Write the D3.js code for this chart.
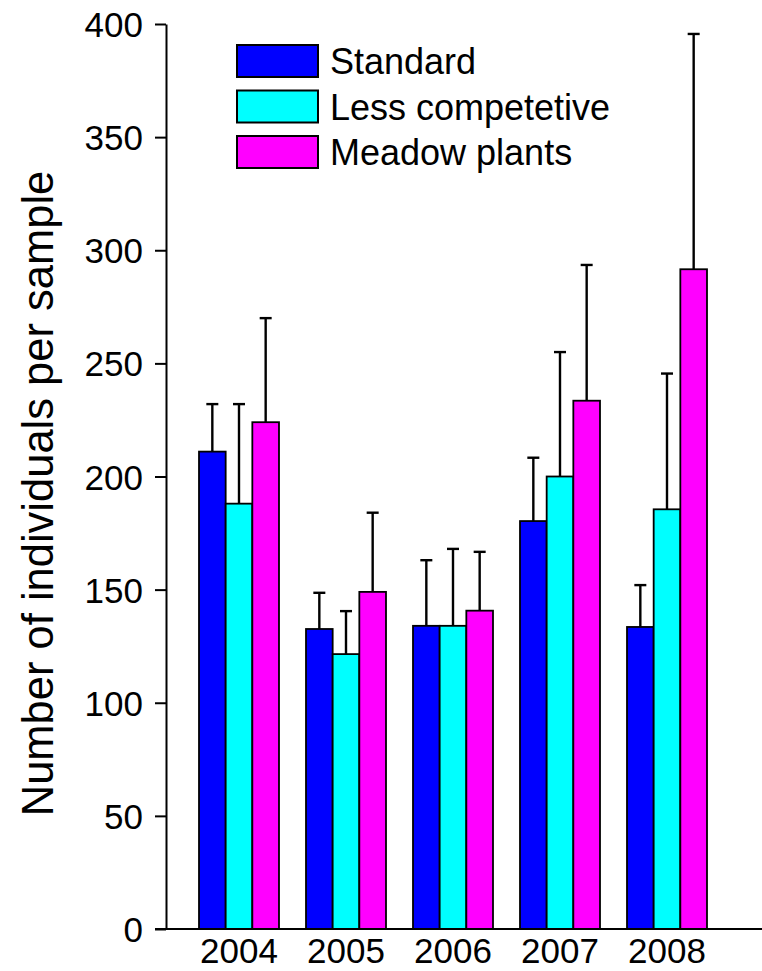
<!DOCTYPE html>
<html>
<head>
<meta charset="utf-8">
<script src="https://cdn.jsdelivr.net/npm/d3@7"></script>
<style>
body { margin:0; background:#fff; }
svg text { font-family: "Liberation Sans", Arial, sans-serif; fill:#000; }
</style>
</head>
<body>
<script>
// data
var years = ["2004","2005","2006","2007","2008"]
var seriesNames = ["Standard","Less competetive","Meadow plants"]
var standardMean = [211, 132.6, 134, 180.3, 133.5]
var standardErr  = [21, 16, 29, 28, 18.5]
var lessMean     = [188, 121.5, 134, 200, 185.5]
var lessErr      = [44, 19, 34, 55, 60]
var meadowMean   = [224, 149, 140.7, 233.5, 291.6]
var meadowErr    = [46, 35, 26, 60, 104]
var yTicks = [0,50,100,150,200,250,300,350,400]
var colors = ["#0000ff","#00ffff","#ff00ff"]

var width = 762, height = 971
var means = [standardMean, lessMean, meadowMean]
var errs = [standardErr, lessErr, meadowErr]

var rows = []
years.forEach(function(yr, i){
	seriesNames.forEach(function(s, j){
		rows.push({year: yr, series: s, j: j, value: means[j][i], err: errs[j][i]})
	})
})

var svg = d3.select("body").append("svg")
	.attr("width", width)
	.attr("height", height)

var x = d3.scaleBand().domain(years)
	.range([166, 740])
	.paddingInner(27/107)
	.paddingOuter(33/107)
var xs = d3.scaleBand().domain(seriesNames).range([0, x.bandwidth()])
var y = d3.scaleLinear().domain([0, 400]).range([929, 24])

// bars
svg.append("g").selectAll("rect")
	.data(rows).enter().append("rect")
	.attr("x", function(d){ return x(d.year) + xs(d.series) })
	.attr("y", function(d){ return y(d.value) })
	.attr("width", xs.bandwidth())
	.attr("height", function(d){ return y(0) - y(d.value) })
	.attr("fill", function(d){ return colors[d.j] })
	.attr("stroke", "#000")
	.attr("stroke-width", 1.8)

// error bars (upper only)
var eb = svg.append("g").attr("stroke", "#000").attr("stroke-width", 2.4)
eb.selectAll("line.v").data(rows).enter().append("line")
	.attr("class", "v")
	.attr("x1", function(d){ return x(d.year) + xs(d.series) + xs.bandwidth()/2 })
	.attr("x2", function(d){ return x(d.year) + xs(d.series) + xs.bandwidth()/2 })
	.attr("y1", function(d){ return y(d.value) })
	.attr("y2", function(d){ return y(d.value + d.err) })
eb.selectAll("line.c").data(rows).enter().append("line")
	.attr("class", "c")
	.attr("x1", function(d){ return x(d.year) + xs(d.series) + xs.bandwidth()/2 - 6 })
	.attr("x2", function(d){ return x(d.year) + xs(d.series) + xs.bandwidth()/2 + 6 })
	.attr("y1", function(d){ return y(d.value + d.err) })
	.attr("y2", function(d){ return y(d.value + d.err) })

// y axis
var yAxis = d3.axisLeft(y).tickValues(yTicks).tickSize(11).tickSizeOuter(0).tickPadding(12)
var gy = svg.append("g").attr("transform", "translate(166,0)").call(yAxis)
gy.selectAll("path, line").attr("stroke", "#000").attr("stroke-width", 2)
gy.selectAll("text").style("font-size", "35px").attr("dy", "0.36em")

// x axis
var xAxis = d3.axisBottom(x).tickSize(0).tickSizeOuter(0).tickPadding(9)
var gx = svg.append("g").attr("transform", "translate(0,929)").call(xAxis)
gx.select("path").remove()
gx.selectAll("text").style("font-size", "35px")
svg.append("line")
	.attr("x1", 155).attr("x2", width)
	.attr("y1", y(0)).attr("y2", y(0))
	.attr("stroke", "#000").attr("stroke-width", 2)

// y label
svg.append("text")
	.attr("transform", "translate(53," + ((y(0) + y(400)) / 2 + 17) + ") rotate(-90)")
	.attr("text-anchor", "middle")
	.style("font-size", "43.5px")
	.text("Number of individuals per sample")

// legend
var leg = svg.append("g").attr("transform", "translate(237,45)")
seriesNames.forEach(function(s, j){
	var g = leg.append("g").attr("transform", "translate(0," + (j * 45.5) + ")")
	g.append("rect").attr("width", 81).attr("height", 32)
		.attr("fill", colors[j]).attr("stroke", "#000").attr("stroke-width", 2)
	g.append("text").attr("x", 93).attr("y", 29)
		.style("font-size", "36px").text(s)
})
</script>
</body>
</html>
